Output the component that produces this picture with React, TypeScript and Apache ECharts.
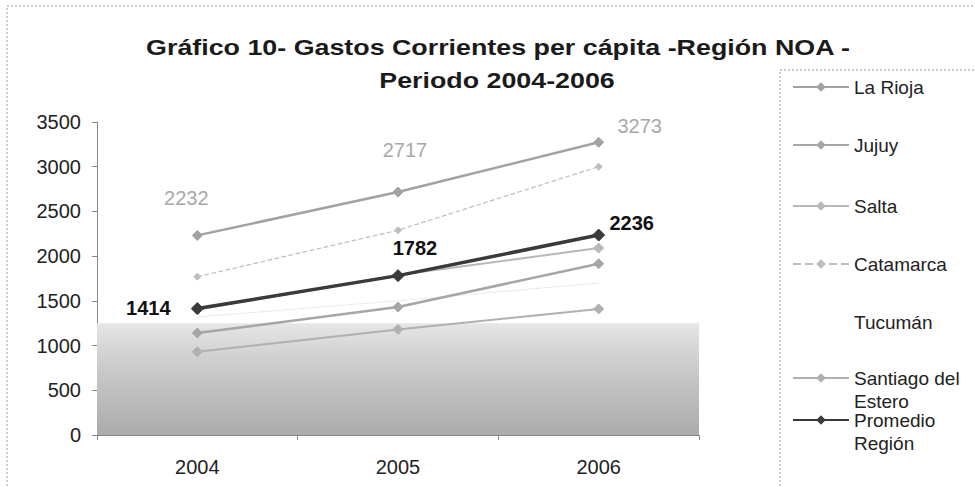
import React, { useEffect, useRef } from "react";
import * as echarts from "echarts";

const years = ["2004", "2005", "2006"];
const yTicks = [0, 500, 1000, 1500, 2000, 2500, 3000, 3500];

const laRioja = [2232, 2717, 3273];
const jujuy = [1140, 1431, 1915];
const salta = [1400, 1790, 2090];
const catamarca = [1770, 2290, 3000];
const tucuman = [1320, 1500, 1700];
const santiago = [930, 1180, 1410];
const promedio = [1414, 1782, 2236];

const seriesNames = [
  "La Rioja",
  "Jujuy",
  "Salta",
  "Catamarca",
  "Tucumán",
  "Santiago del Estero",
  "Promedio Región",
];

const titleLine1 = "Gráfico 10- Gastos Corrientes per cápita -Región NOA -";
const titleLine2 = "Periodo 2004-2006";

const shadeTop = 1250;

const FONT = '"Liberation Sans", Arial, sans-serif';

const rojaOffsets = [
  [-11, -37],
  [7, -42],
  [41, -16],
];
const promOffsets = [
  [-49, -1],
  [17, -28],
  [33, -12],
];

const legendCenters = [87, 145, 206, 264, 322, 378, 420];

export default function App() {
  const ref = useRef<HTMLDivElement>(null);

  useEffect(() => {
    if (!ref.current) return;
    const chart = echarts.init(ref.current, null, { renderer: "svg" });

    const labeled = (vals: number[], offs: number[][], style: any) =>
      vals.map((v, i) => ({
        value: v,
        label: {
          show: true,
          position: "inside",
          offset: offs[i],
          ...style,
        },
      }));

    const lineSeries = (
      name: string,
      data: any[],
      color: string,
      width: number,
      type: string,
      symbolSize: number,
      z: number,
      extra: any = {}
    ) => ({
      name,
      type: "line",
      data,
      symbol: symbolSize > 0 ? "diamond" : "none",
      symbolSize,
      showSymbol: symbolSize > 0,
      z,
      lineStyle: { color, width, type },
      itemStyle: { color, borderColor: color },
      emphasis: { disabled: true },
      ...extra,
    });

    const legendFormatter = (name: string) => {
      if (name === "Santiago del Estero") return "\nSantiago del\nEstero";
      if (name === "Promedio Región") return "\nPromedio\nRegión";
      return name;
    };

    const legends = seriesNames.map((n, i) => {
      const multi = i >= 5;
      const item: any =
        n === "Tucumán"
          ? { name: n, itemStyle: { opacity: 0 }, lineStyle: { opacity: 0 } }
          : n;
      return {
        data: [item],
        orient: "vertical",
        left: 792,
        top: legendCenters[i] - (multi ? 34.5 : 11.5),
        padding: 0,
        itemWidth: 56,
        itemHeight: 12,
        itemGap: 7,
        selectedMode: false,
        formatter: legendFormatter,
        textStyle: {
          fontFamily: FONT,
          fontSize: 19,
          color: "#222",
          lineHeight: 23,
        },
      };
    });

    const option: any = {
      animation: false,
      backgroundColor: "#fff",
      textStyle: { fontFamily: FONT },
      grid: { left: 97, right: 276, top: 122, bottom: 52, containLabel: false },
      legend: legends,
      graphic: [
        {
          type: "rect",
          shape: { x: 7, y: 6, width: 1000, height: 520 },
          style: { fill: "none", stroke: "#9a9a9a", lineWidth: 1, lineDash: [2, 2] },
          silent: true,
          z: -10,
        },
        {
          type: "rect",
          shape: { x: 780, y: 70, width: 300, height: 500 },
          style: { fill: "none", stroke: "#9a9a9a", lineWidth: 1, lineDash: [2, 2] },
          silent: true,
          z: -10,
        },
        {
          type: "text",
          x: 498,
          y: 47,
          scaleX: 1.22,
          style: {
            text: titleLine1,
            fontFamily: FONT,
            fontWeight: "bold",
            fontSize: 22,
            fill: "#1a1a1a",
            textAlign: "center",
            textVerticalAlign: "middle",
          },
        },
        {
          type: "text",
          x: 497,
          y: 80,
          scaleX: 1.22,
          style: {
            text: titleLine2,
            fontFamily: FONT,
            fontWeight: "bold",
            fontSize: 22,
            fill: "#1a1a1a",
            textAlign: "center",
            textVerticalAlign: "middle",
          },
        },
      ],
      xAxis: {
        type: "category",
        data: years,
        boundaryGap: true,
        axisLine: { lineStyle: { color: "#888", width: 1 } },
        axisTick: { show: true, length: 5, lineStyle: { color: "#888" } },
        axisLabel: { fontSize: 20, color: "#222", margin: 22, fontFamily: FONT },
        splitLine: { show: false },
      },
      yAxis: {
        type: "value",
        min: yTicks[0],
        max: yTicks[yTicks.length - 1],
        interval: 500,
        axisLine: { show: true, lineStyle: { color: "#888", width: 1 } },
        axisTick: { show: true, length: 5, lineStyle: { color: "#888" } },
        axisLabel: {
          fontSize: 20,
          color: "#222",
          margin: 16,
          fontFamily: FONT,
          formatter: (v: number) => String(v),
        },
        splitLine: { show: false },
      },
      series: [
        lineSeries("La Rioja", labeled(laRioja, rojaOffsets, {
          color: "#a8a8a8",
          fontSize: 20,
          fontFamily: FONT,
        }), "#a2a2a2", 2.5, "solid", 10, 5, {
          markArea: {
            silent: true,
            itemStyle: {
              color: {
                type: "linear",
                x: 0, y: 0, x2: 0, y2: 1,
                colorStops: [
                  { offset: 0, color: "#e6e6e6" },
                  { offset: 0.35, color: "#cdcdcd" },
                  { offset: 1, color: "#ababab" },
                ],
              },
            },
            data: [[{ yAxis: 0 }, { yAxis: shadeTop }]],
          },
        }),
        lineSeries("Jujuy", jujuy, "#a6a6a6", 2.5, "solid", 10, 5),
        lineSeries("Salta", salta, "#b8b8b8", 2, "solid", 10, 4),
        lineSeries("Catamarca", catamarca, "#bdbdbd", 1.2, "dashed", 7, 4),
        lineSeries("Tucumán", tucuman, "#d4d4d4", 1, "dotted", 0, 3),
        lineSeries("Santiago del Estero", santiago, "#b0b0b0", 2, "solid", 10, 4),
        lineSeries("Promedio Región", labeled(promedio, promOffsets, {
          color: "#111",
          fontSize: 20,
          fontWeight: "bold",
          fontFamily: FONT,
        }), "#3a3a3a", 3.5, "solid", 12, 6),
      ],
    };

    chart.setOption(option);
    return () => chart.dispose();
  }, []);

  return (
    <div
      ref={ref}
      style={{ position: "fixed", left: 0, top: 0, width: 975, height: 487 }}
    />
  );
}
